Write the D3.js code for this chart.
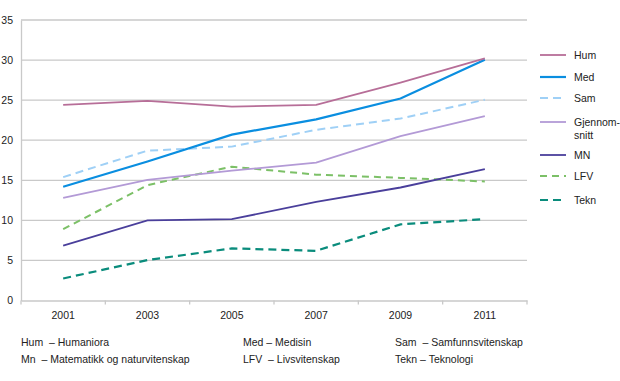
<!DOCTYPE html>
<html>
<head>
<meta charset="utf-8">
<script src="https://cdn.jsdelivr.net/npm/d3@7"></script>
<style>
  body { margin: 0; background: #fff; }
  text { font-family: "Liberation Sans", Arial, sans-serif; fill: #222; }
</style>
</head>
<body>
<div id="chart"></div>
<script>
// svg area
var svgWidth = 620;
var svgHeight = 381;

// plot area
var chartMargin = { top: 20, right: 93, bottom: 80.5, left: 21 };
var chartWidth = svgWidth - chartMargin.left - chartMargin.right;
var chartHeight = svgHeight - chartMargin.top - chartMargin.bottom;

// data
var years = ["2001", "2003", "2005", "2007", "2009", "2011"];
var hum = [24.4, 24.9, 24.2, 24.4, 27.2, 30.2];
var med = [14.2, 17.35, 20.7, 22.6, 25.2, 30.05];
var sam = [15.4, 18.7, 19.2, 21.3, 22.7, 25.05];
var snitt = [12.8, 15.05, 16.2, 17.2, 20.5, 23.0];
var mn = [6.85, 10.0, 10.15, 12.3, 14.1, 16.4];
var lfv = [8.9, 14.4, 16.7, 15.7, 15.3, 14.85];
var tekn = [2.75, 5.05, 6.5, 6.2, 9.5, 10.15];
var yTicks = [0, 5, 10, 15, 20, 25, 30, 35];

var series = [
  { name: ["Hum"], values: hum, color: "#b76e98", width: 1.8, dash: null },
  { name: ["Med"], values: med, color: "#0a8ee0", width: 2.2, dash: null },
  { name: ["Sam"], values: sam, color: "#9fd0f6", width: 2, dash: "8,5" },
  { name: ["Gjennom-", "snitt"], values: snitt, color: "#b39ad6", width: 1.8, dash: null },
  { name: ["MN"], values: mn, color: "#4a3f9b", width: 1.8, dash: null },
  { name: ["LFV"], values: lfv, color: "#7cc067", width: 2, dash: "7,5" },
  { name: ["Tekn"], values: tekn, color: "#0a8c7c", width: 2.2, dash: "8,5" }
];
var legendY = [55, 77, 98, 122, 155, 176, 200];

var footer = [
  ["Hum  \u2013 Humaniora", "Med \u2013 Medisin", "Sam  \u2013 Samfunnsvitenskap"],
  ["Mn  \u2013 Matematikk og naturvitenskap", "LFV  \u2013 Livsvitenskap", "Tekn \u2013 Teknologi"]
];
var footerX = [21, 243, 395];

var svg = d3.select("#chart")
            .append("svg")
            .attr("width", svgWidth)
            .attr("height", svgHeight);

var chartGroup = svg.append("g")
                    .attr("transform", `translate(${chartMargin.left}, ${chartMargin.top})`);

var xScale = d3.scaleBand()
               .domain(years)
               .range([0, chartWidth]);

var yScale = d3.scaleLinear()
               .domain([0, 35])
               .range([chartHeight, 0]);

// gridlines
chartGroup.append("g")
          .selectAll("line")
          .data(yTicks.filter(d => d > 0))
          .enter()
          .append("line")
          .attr("x1", 0)
          .attr("x2", chartWidth)
          .attr("y1", d => yScale(d))
          .attr("y2", d => yScale(d))
          .attr("stroke", "#c9c9c9")
          .attr("stroke-width", 1.3);

// y axis
var leftAxis = d3.axisLeft(yScale).tickValues(yTicks).tickSize(0).tickPadding(8);
var yAxis = chartGroup.append("g").call(leftAxis);
yAxis.select(".domain").attr("stroke", "#c9c9c9").attr("stroke-width", 1.3);
yAxis.selectAll("text").style("font-size", "10.5px").style("font-family", "Liberation Sans, Arial, sans-serif").attr("fill", "#222");

// x axis
var bottomAxis = d3.axisBottom(xScale).tickSize(0).tickPadding(11);
var xAxis = chartGroup.append("g")
                      .attr("transform", `translate(0, ${chartHeight})`)
                      .call(bottomAxis);
xAxis.select(".domain").attr("stroke", "#c9c9c9").attr("stroke-width", 1.3);
xAxis.selectAll("text").style("font-size", "10.5px").style("font-family", "Liberation Sans, Arial, sans-serif").attr("fill", "#222");

// tick marks between categories
var bounds = years.map(d => xScale(d)).concat([chartWidth]);
xAxis.selectAll(".bound")
     .data(bounds)
     .enter()
     .append("line")
     .attr("class", "bound")
     .attr("x1", d => d)
     .attr("x2", d => d)
     .attr("y1", 0)
     .attr("y2", 4)
     .attr("stroke", "#c9c9c9")
     .attr("stroke-width", 1.3);

// lines
var line = d3.line()
             .x((d, i) => xScale(years[i]) + xScale.bandwidth() / 2)
             .y(d => yScale(d));

// draw bottom series first so top ones overlay as in the original
series.slice().reverse().forEach(function(s) {
  chartGroup.append("path")
            .datum(s.values)
            .attr("d", line)
            .attr("fill", "none")
            .attr("stroke", s.color)
            .attr("stroke-width", s.width)
            .attr("stroke-dasharray", s.dash);
});

// legend
var legend = svg.append("g");
series.forEach(function(s, i) {
  var y = legendY[i];
  legend.append("line")
        .attr("x1", 540)
        .attr("x2", 566)
        .attr("y1", y)
        .attr("y2", y)
        .attr("stroke", s.color)
        .attr("stroke-width", s.width)
        .attr("stroke-dasharray", s.dash);
  s.name.forEach(function(n, j) {
    legend.append("text")
          .attr("x", 574)
          .attr("y", y + 4 + j * 12.5)
          .style("font-size", "10.5px")
          .text(n);
  });
});

// footer abbreviations
var foot = svg.append("g");
footer.forEach(function(row, r) {
  row.forEach(function(t, c) {
    foot.append("text")
        .attr("x", footerX[c])
        .attr("y", 345.5 + r * 17.5)
        .style("font-size", "10.5px")
        .style("white-space", "pre")
        .text(t);
  });
});
</script>
</body>
</html>
